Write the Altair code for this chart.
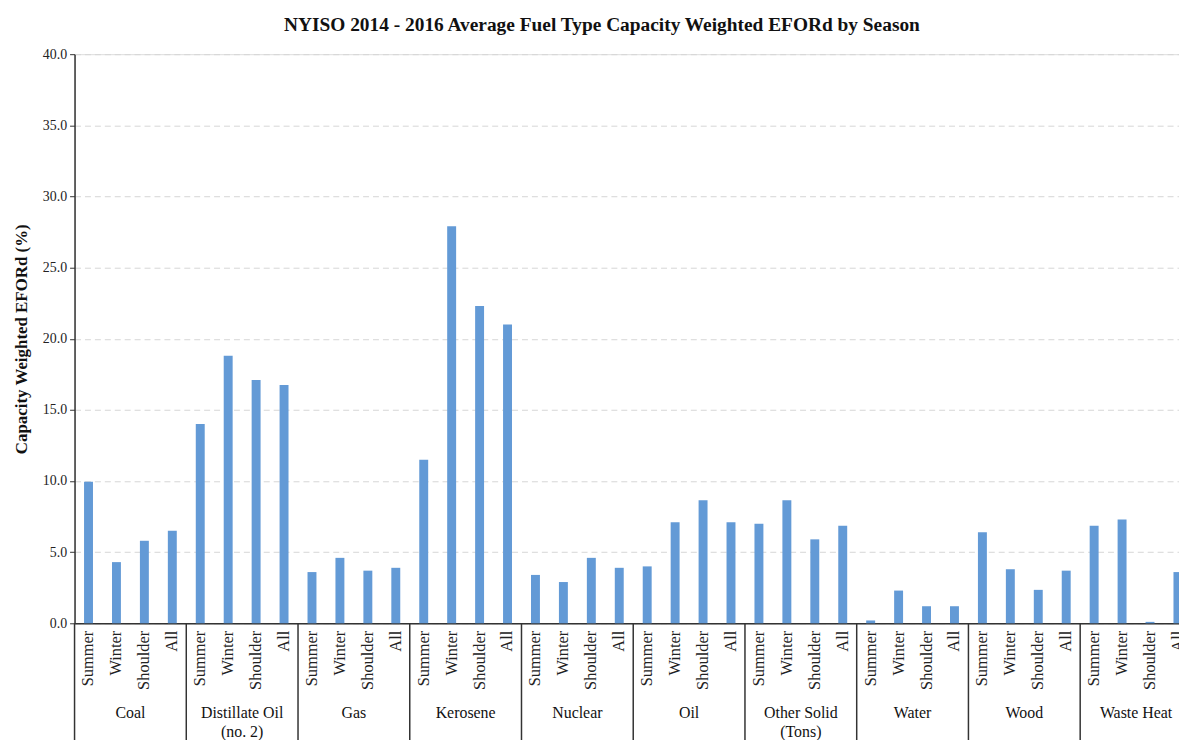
import altair as alt
import pandas as pd

fuels = ["Coal", "Distillate Oil\n(no. 2)", "Gas", "Kerosene", "Nuclear", "Oil",
         "Other Solid\n(Tons)", "Water", "Wood", "Waste Heat"]
seasons = ["Summer", "Winter", "Shoulder", "All"]
coal = [9.95, 4.3, 5.8, 6.5]
distillate = [14.0, 18.8, 17.1, 16.75]
gas = [3.6, 4.6, 3.7, 3.9]
kerosene = [11.5, 27.9, 22.3, 21.0]
nuclear = [3.4, 2.9, 4.6, 3.9]
oil = [4.0, 7.1, 8.65, 7.1]
other_solid = [7.0, 8.65, 5.9, 6.85]
water = [0.2, 2.3, 1.2, 1.2]
wood = [6.4, 3.8, 2.35, 3.7]
waste_heat = [6.85, 7.3, 0.1, 3.6]
series = [coal, distillate, gas, kerosene, nuclear, oil, other_solid, water, wood, waste_heat]

rows = []
for f, vals in zip(fuels, series):
    for s, v in zip(seasons, vals):
        rows.append({"fuel": f, "season": s, "key": f + "|" + s, "value": v})
df = pd.DataFrame(rows)
keys = list(df["key"])
fdf = pd.DataFrame({"fuel": fuels})

W, H = 1112, 573
FULL = 1125
FONT = "Liberation Serif"

bars = alt.Chart(df).mark_bar(color="#639ad6").encode(
    x=alt.X("key:N", sort=keys,
            scale=alt.Scale(domain=keys, range=[0, FULL], paddingInner=0.68, paddingOuter=0.34),
            axis=alt.Axis(title=None, labelExpr="split(datum.label, '|')[1]", labelAngle=270,
                          ticks=False, labelPadding=7, labelFont=FONT, labelFontSize=16.5,
                          labelColor="#222", domainColor="#333", domainWidth=1.5,
                          labelOverlap=False, grid=False)),
    y=alt.Y("value:Q", scale=alt.Scale(domain=[0, 40], nice=False),
            axis=alt.Axis(title="Capacity Weighted EFORd (%)", values=[0, 5, 10, 15, 20, 25, 30, 35, 40],
                          format=".1f", labelFont=FONT, labelFontSize=14, labelColor="#222",
                          titleFont=FONT, titleFontSize=17, titleFontWeight="bold", titleColor="#111",
                          titlePadding=12, tickSize=5, tickColor="#333", domainColor="#333",
                          domainWidth=1.5, labelPadding=3, gridColor="#d6d6d6", gridDash=[6, 4])),
)

fscale = alt.Scale(domain=fuels, range=[0, FULL], paddingInner=0, paddingOuter=0)

seps = alt.Chart(fdf).mark_rule(color="#333", strokeWidth=1.5).encode(
    x=alt.X("fuel:N", sort=fuels, scale=fscale, bandPosition=0, axis=None),
    y=alt.value(H), y2=alt.value(H + 130),
)

glabels = alt.Chart(fdf).mark_text(font=FONT, fontSize=16, color="#111", baseline="middle",
                                   lineBreak="\n", lineHeight=19).encode(
    x=alt.X("fuel:N", sort=fuels, scale=fscale, axis=None),
    y=alt.value(H + 90),
    text="fuel:N",
)

chart = alt.layer(bars, seps, glabels).resolve_scale(x="independent").properties(
    width=W, height=H,
    autosize=alt.AutoSizeParams(type="none"),
    padding={"left": 67, "top": 44, "right": 0, "bottom": 115},
    title=alt.TitleParams("NYISO 2014 - 2016 Average Fuel Type Capacity Weighted EFORd by Season",
                          font=FONT, fontSize=19.5, fontWeight="bold", color="#111",
                          anchor="middle", dx=-25, offset=12),
).configure_view(stroke=None).configure(background="white")

chart.save("out.html", embed_options={"renderer": "svg", "actions": False})
